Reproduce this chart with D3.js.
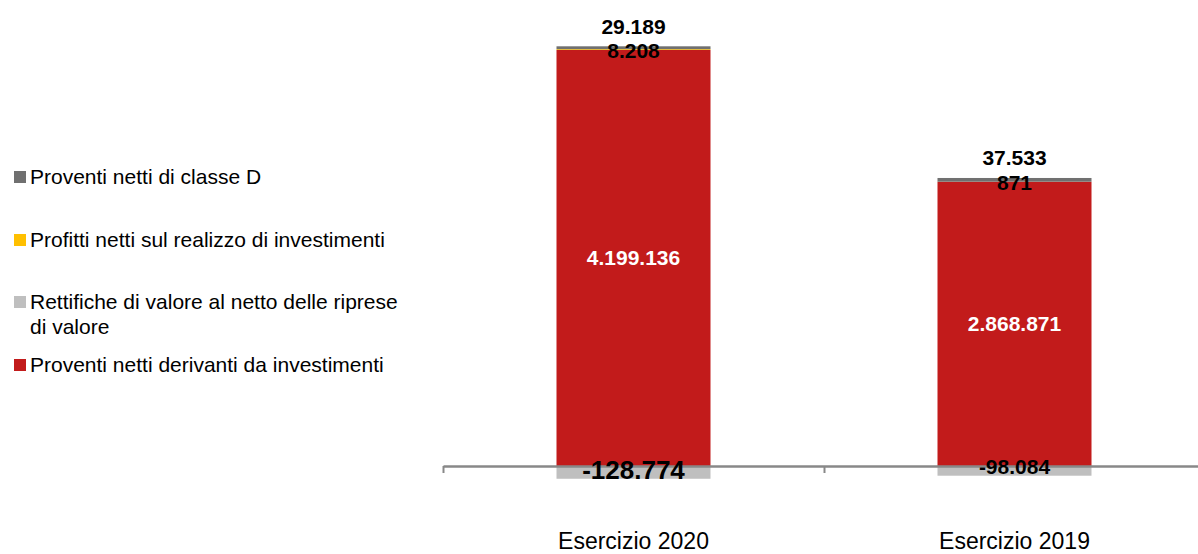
<!DOCTYPE html>
<html><head><meta charset="utf-8">
<script src="https://cdn.jsdelivr.net/npm/d3@7"></script>
<style>body{margin:0;background:#fff}svg{display:block;font-family:"Liberation Sans",Arial,sans-serif}</style>
</head><body><svg id="c" width="1198" height="554"></svg>
<script>
const categories = ["Esercizio 2020", "Esercizio 2019"];
const seriesNames = ["Proventi netti derivanti da investimenti", "Rettifiche di valore al netto delle riprese di valore", "Profitti netti sul realizzo di investimenti", "Proventi netti di classe D"];
const derivanti = [4199136, 2868871];
const rettifiche = [-128774, -98084];
const profitti = [8208, 871];
const classeD = [29189, 37533];
const colors = ["#c21b1b", "#bfbfbf", "#ffc000", "#707070"];
const legendOrder = [3, 2, 1, 0];

const svg = d3.select("#c");
const data = categories.map((c, i) => ({cat: c, s0: derivanti[i], s1: rettifiche[i], s2: profitti[i], s3: classeD[i]}));
const keys = ["s0", "s1", "s2", "s3"];
const stack = d3.stack().keys(keys).offset(d3.stackOffsetDiverging)(data);

const x = d3.scaleBand().domain(categories).range([443, 1205]).padding(0);
const barW = 154;
const y = d3.scaleLinear().domain([0, 4199136]).range([466, 50]);

stack.forEach((layer, k) => {
  svg.append("g").selectAll("rect").data(layer).join("rect")
    .attr("x", d => x(d.data.cat) + (x.bandwidth() - barW) / 2)
    .attr("width", barW)
    .attr("y", d => y(Math.max(d[0], d[1])))
    .attr("height", d => Math.abs(y(d[0]) - y(d[1])))
    .attr("fill", colors[k]);
});

const xa = d3.scaleLinear().domain([0, 2]).range([443, 1205]);
const ax = svg.append("g").attr("transform", "translate(0,466)")
  .call(d3.axisBottom(xa).tickValues([0, 1, 2]).tickSize(7).tickSizeOuter(0).tickFormat(""));
ax.select(".domain").attr("stroke", "#888").attr("stroke-width", 2.5);
ax.selectAll(".tick line").attr("stroke", "#888").attr("stroke-width", 2);

const fmt = v => (v < 0 ? "-" : "") + d3.format(",")(Math.abs(v)).replace(/,/g, ".");
const cx = c => x(c) + x.bandwidth() / 2;

const lab = svg.append("g").attr("font-weight", "bold").attr("text-anchor", "middle");
stack[0].forEach(d => {
  lab.append("text").attr("x", cx(d.data.cat)).attr("y", (y(d[0]) + y(d[1])) / 2).attr("dy", "0.35em")
    .attr("fill", "#fff").attr("font-size", 21).text(fmt(d.data.s0));
});
stack[1].forEach((d, i) => {
  lab.append("text").attr("x", cx(d.data.cat)).attr("y", i === 0 ? 479 : 474)
    .attr("fill", "#000").attr("font-size", i === 0 ? 26 : 21).text(fmt(d.data.s1));
});
stack[2].forEach(d => {
  lab.append("text").attr("x", cx(d.data.cat)).attr("y", (y(d[0]) + y(d[1])) / 2 + 1).attr("dy", "0.35em")
    .attr("fill", "#000").attr("font-size", 21).text(fmt(d.data.s2));
});
stack[3].forEach(d => {
  lab.append("text").attr("x", cx(d.data.cat)).attr("y", y(d[1]) - 20).attr("dy", "0.35em")
    .attr("fill", "#000").attr("font-size", 21).text(fmt(d.data.s3));
});

svg.append("g").selectAll("text").data(categories).join("text")
  .attr("x", d => cx(d)).attr("y", 549).attr("text-anchor", "middle")
  .attr("font-size", 23).attr("fill", "#000").text(d => d);

const legY = [177, 240, 302, 365];
const lg = svg.append("g");
legendOrder.forEach((k, i) => {
  lg.append("rect").attr("x", 14).attr("y", legY[i] - 6).attr("width", 12).attr("height", 12).attr("fill", colors[k]);
  const t = lg.append("text").attr("x", 30).attr("y", legY[i]).attr("dy", "0.35em").attr("font-size", 21).attr("fill", "#000");
  if (k === 1) {
    t.append("tspan").attr("x", 30).text("Rettifiche di valore al netto delle riprese");
    t.append("tspan").attr("x", 30).attr("dy", "1.15em").text("di valore");
  } else {
    t.text(seriesNames[k]);
  }
});
</script></body></html>
